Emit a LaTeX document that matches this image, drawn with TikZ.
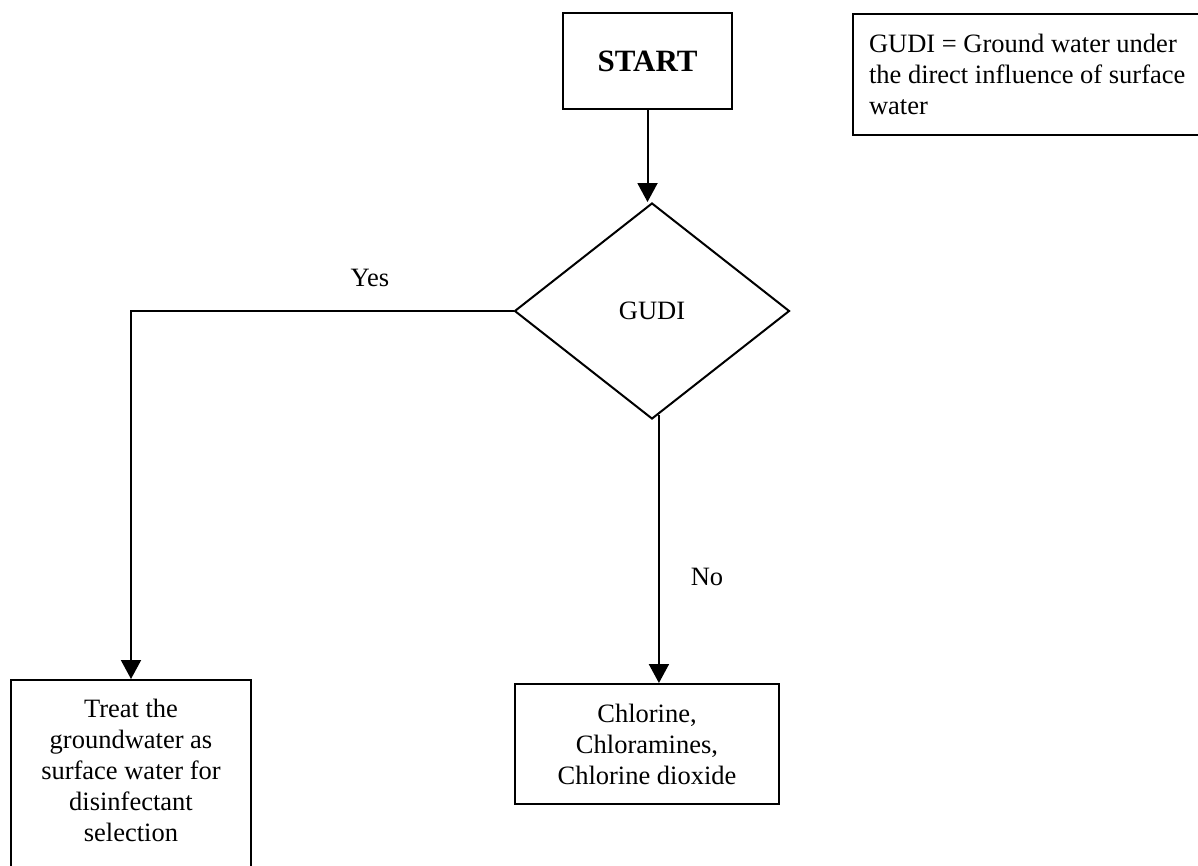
\documentclass[tikz,border=0pt]{standalone}
\usepackage{fontspec}
\setmainfont{Liberation Serif}
\usetikzlibrary{shapes.geometric,arrows.meta,calc,positioning}

\begin{document}
\begin{tikzpicture}[x = 1pt, y = -1pt,
  box/.style = {draw, line width = 2pt, shape = rectangle, inner sep = 0pt, align = center, font = \fontsize{26.5}{31}\selectfont},
  link/.style = {line width = 2pt},
  arrow/.style = {link, -{Triangle[length = 19pt, width = 20pt]}},
  tag/.style = {font = \fontsize{26.5}{31}\selectfont}]
\useasboundingbox (0,0) rectangle (1198,865);
\node[box, minimum width = 169pt, minimum height = 96pt, font = \fontsize{31}{36}\selectfont\bfseries] (start) at (647.5,61) {START};
\node[box, shape = diamond, minimum width = 275pt, minimum height = 216pt] (gudi) at (652,311) {GUDI};
\node[box, anchor = north west, inner xsep = 16pt, minimum height = 121pt] (note) at (852,13)
  {\parbox{328pt}{\raggedright GUDI = Ground water under\\ the direct influence of surface\\ water}};
\node[box, anchor = north] (treat) at (131,679)
  {\parbox[t][230pt][t]{240pt}{\centering\rule{0pt}{37pt}Treat the\\ groundwater as\\ surface water for\\ disinfectant\\ selection}};
\node[box, minimum width = 264pt, minimum height = 120pt] (chlor) at (647,744) {Chlorine,\\ Chloramines,\\ Chlorine dioxide};
\coordinate (noexit) at ($(gudi.south)!0.05!(gudi.east)$);
% connectors
\draw[arrow] (start.south) -- (start.south |- gudi.north);
\draw[arrow] (gudi.west) -| (treat.north);
\draw[arrow] (noexit) -- (noexit |- chlor.north);
\node[tag] (yes) at (370,278) {Yes};
\node[tag] (no) at (707,577) {No};
\end{tikzpicture}
\end{document}
